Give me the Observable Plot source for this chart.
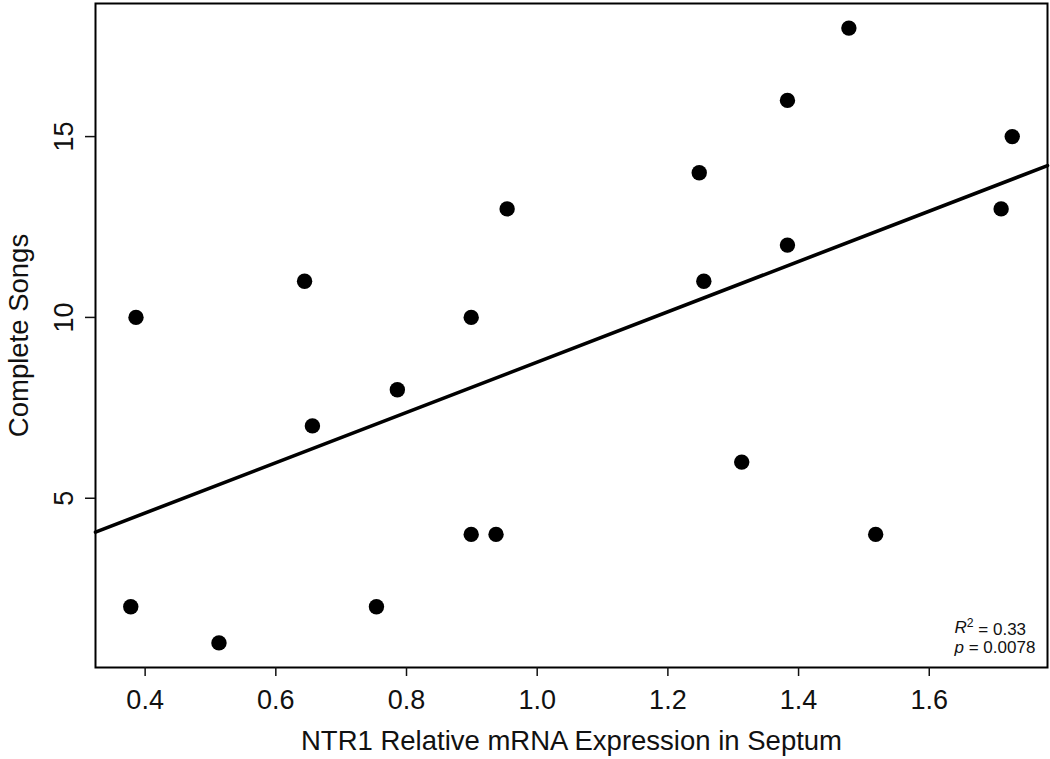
<!DOCTYPE html>
<html><head><meta charset="utf-8">
<script src="https://cdn.jsdelivr.net/npm/d3@7"></script>
<script src="https://cdn.jsdelivr.net/npm/@observablehq/plot@0.6"></script>
<style>body{margin:0;background:#fff} svg{display:block}</style>
</head><body><div id="chart"></div>
<script>
// NTR1 relative mRNA expression (x) vs complete songs (y)
const expression = [0.378, 0.386, 0.513, 0.644, 0.656, 0.754, 0.786, 0.899, 0.899, 0.937, 0.954, 1.248, 1.255, 1.313, 1.383, 1.383, 1.477, 1.518, 1.710, 1.727];
const songs      = [2,     10,    1,     11,    7,     2,     8,     10,    4,     4,     13,    14,    11,    6,     16,    12,    18,    4,     13,    15];
const xTicks = [0.4, 0.6, 0.8, 1.0, 1.2, 1.4, 1.6];
const yTicks = [5, 10, 15];
const xTitle = ["NTR1 Relative mRNA Expression in Septum"];
const yTitle = ["Complete Songs"];
const statR2 = ["R2 = 0.33"];
const statP = ["p = 0.0078"];

const data = expression.map((x, i) => ({x, y: songs[i]}));

// R-style 4% axis padding
function pad(ext) { const d = (ext[1] - ext[0]) * 0.04; return [ext[0] - d, ext[1] + d]; }
const xDomain = pad(d3.extent(expression));
const yDomain = pad(d3.extent(songs));

// least-squares fit, drawn across the whole frame (abline)
const mx = d3.mean(expression), my = d3.mean(songs);
const slope = d3.sum(data, d => (d.x - mx) * (d.y - my)) / d3.sum(data, d => (d.x - mx) ** 2);
const intercept = my - slope * mx;
const fitLine = xDomain.map(x => ({x, y: intercept + slope * x}));

const font = "'Liberation Sans', Arial, Helvetica, sans-serif";

const chart = Plot.plot({
  width: 1050,
  height: 759,
  marginLeft: 95,
  marginRight: 3,
  marginTop: 3,
  marginBottom: 92,
  style: {fontFamily: font, color: "#111", background: "white"},
  x: {domain: xDomain},
  y: {domain: yDomain},
  marks: [
    Plot.line(fitLine, {x: "x", y: "y", stroke: "black", strokeWidth: 3.6}),
    Plot.dot(data, {x: "x", y: "y", r: 7.7, fill: "black", stroke: "none"}),
    Plot.frame({stroke: "black", strokeWidth: 2}),
    Plot.axisX(xTicks, {tickSize: 9, tickPadding: 13, tickFormat: d3.format(".1f"), fontSize: 27, strokeWidth: 1.5, label: null}),
    Plot.axisY(yTicks, {tickSize: 10, tickPadding: 13, tickRotate: -90, fontSize: 27, strokeWidth: 1.5, label: null}),
    Plot.text(xTitle, {text: d => d, frameAnchor: "bottom", dy: 82, lineAnchor: "bottom", textAnchor: "middle", fontSize: 27.5}),
    Plot.text(yTitle, {text: d => d, frameAnchor: "left", rotate: -90, dx: -68, lineAnchor: "bottom", textAnchor: "middle", fontSize: 27.5}),
    Plot.text(statR2, {text: d => d, frameAnchor: "bottom-right", textAnchor: "start", dx: -93, dy: -35, lineAnchor: "bottom", fontSize: 17}),
    Plot.text(statP, {text: d => d, frameAnchor: "bottom-right", textAnchor: "start", dx: -93, dy: -15, lineAnchor: "bottom", fontSize: 17})
  ]
});

// italic symbol + superscript for the stats
d3.select(chart).selectAll("text").each(function() {
  const t = d3.select(this);
  const s = this.textContent;
  if (s === statR2[0]) {
    t.text(null);
    t.append("tspan").attr("font-style", "italic").text("R");
    t.append("tspan").attr("dy", "-0.42em").attr("font-size", "0.72em").text("2");
    t.append("tspan").attr("dy", "0.42em").text(" = " + s.split("= ")[1]);
  } else if (s === statP[0]) {
    t.text(null);
    t.append("tspan").attr("font-style", "italic").text("p");
    t.append("tspan").text(" = " + s.split("= ")[1]);
  }
});

document.getElementById("chart").append(chart);
</script>
</body></html>
